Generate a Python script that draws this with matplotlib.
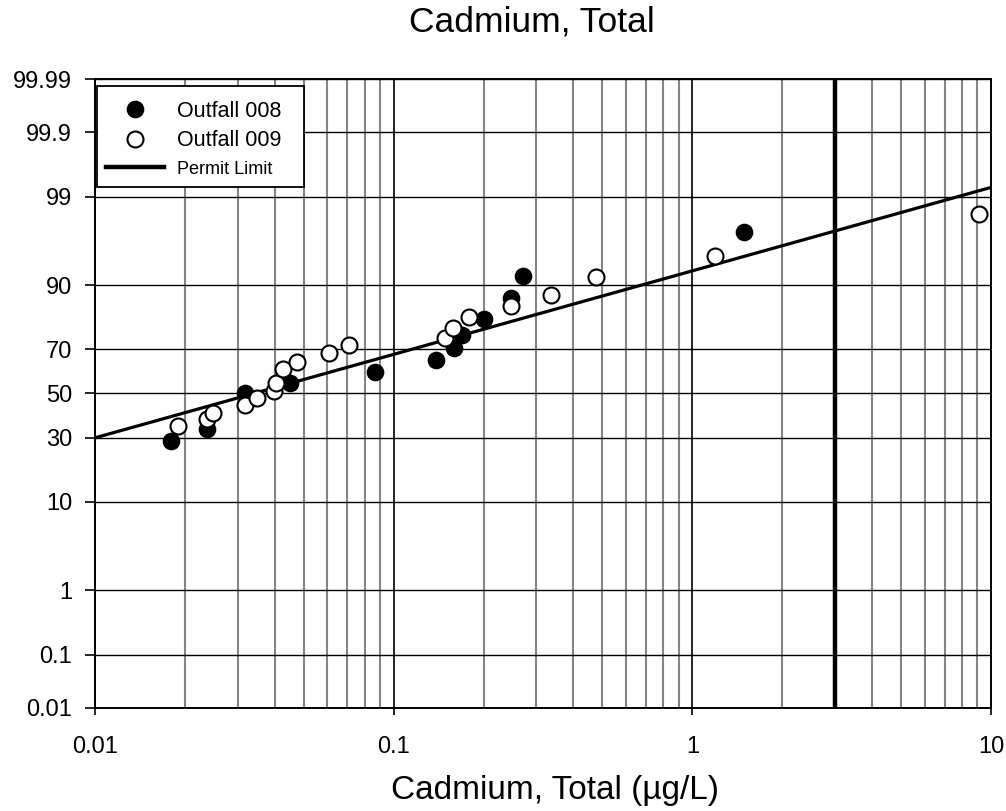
from statistics import NormalDist
import numpy as np
import matplotlib
matplotlib.use("Agg")
import matplotlib.pyplot as plt
from matplotlib.patches import Rectangle
from matplotlib.ticker import FixedLocator, FixedFormatter, LogLocator, NullFormatter

plt.rcParams["font.family"] = ["Liberation Sans", "DejaVu Sans"]

# Outfall 008 results (ug/L) and cumulative probability (%)
conc_008 = [0.0179, 0.0238, 0.0317, 0.0451, 0.0863, 0.139, 0.159, 0.170,
            0.200, 0.248, 0.270, 1.49]
prob_008 = [28.8, 33.7, 50.4, 54.8, 60.2, 65.4, 70.3, 75.5, 81.0, 87.0,
            91.8, 97.2]

# Outfall 009 results (ug/L) and cumulative probability (%)
conc_009 = [0.0189, 0.0238, 0.0248, 0.0318, 0.0349, 0.0396, 0.0404, 0.0427,
            0.0475, 0.0607, 0.0708, 0.148, 0.158, 0.179, 0.248, 0.337,
            0.477, 1.19, 9.09]
prob_009 = [34.9, 38.0, 41.1, 44.8, 47.9, 51.0, 55.0, 61.4, 64.6, 68.2,
            71.5, 74.3, 77.9, 81.6, 84.9, 87.9, 91.5, 94.8, 98.3]

# lognormal fit (log10 mean / std) and permit limit
fit_mu = -1.469
fit_sigma = 1.013
permit_limit = 3.0

prob_ticks = [0.01, 0.1, 1, 10, 30, 50, 70, 90, 99, 99.9, 99.99]
prob_labels = ["0.01", "0.1", "1", "10", "30", "50", "70", "90", "99",
               "99.9", "99.99"]

nd = NormalDist()
_ppf = np.vectorize(lambda p: nd.inv_cdf(min(max(p / 100.0, 1e-12), 1 - 1e-12)),
                    otypes=[float])
_cdf = np.vectorize(lambda z: nd.cdf(z) * 100.0, otypes=[float])


def forward(p):
    return _ppf(np.asarray(p, dtype=float))


def inverse(z):
    return _cdf(np.asarray(z, dtype=float))


W, H = 1006, 811
fig = plt.figure(figsize=(W / 100, H / 100), dpi=100)
ax = fig.add_axes([95 / W, 1 - 708 / H, 896 / W, 629 / H])

ax.set_xscale("log")
ax.set_yscale("function", functions=(forward, inverse))
ax.set_xlim(0.01, 10)
ax.set_ylim(0.01, 99.99)

# grid
ax.xaxis.set_minor_locator(LogLocator(base=10, subs=np.arange(2, 10)))
ax.xaxis.set_minor_formatter(NullFormatter())
ax.grid(True, which="minor", axis="x", color="#858585", lw=1.5)
ax.grid(True, which="major", axis="x", color="black", lw=1.2)
ax.grid(True, which="major", axis="y", color="black", lw=1.0)

ax.yaxis.set_major_locator(FixedLocator(prob_ticks))
ax.yaxis.set_major_formatter(FixedFormatter(prob_labels))
ax.yaxis.set_minor_locator(FixedLocator([]))
ax.set_xticks([0.01, 0.1, 1, 10])
ax.set_xticklabels(["0.01", "0.1", "1", "10"])

ax.tick_params(axis="both", which="major", direction="out", width=1.2,
               labelsize=17)
ax.tick_params(axis="y", which="major", length=7.5, pad=9)
ax.tick_params(axis="x", which="major", length=5, pad=15)
ax.tick_params(axis="x", which="minor", length=0)
for sp in ax.spines.values():
    sp.set_linewidth(1.4)

# fitted line
xfit = np.logspace(-2, 1, 200)
pfit = np.array([nd.cdf((np.log10(v) - fit_mu) / fit_sigma) * 100 for v in xfit])
ax.plot(xfit, pfit, color="black", lw=2.3, zorder=3)

plimit = ax.axvline(permit_limit, color="black", lw=3.2, zorder=3,
                    label="Permit Limit")

h8, = ax.plot(conc_008, prob_008, "o", ms=11.5, mfc="black", mec="black",
              mew=1.2, zorder=4, label="Outfall 008")
h9, = ax.plot(conc_009, prob_009, "o", ms=11.5, mfc="white", mec="black",
              mew=1.5, zorder=5, label="Outfall 009")

# legend box drawn separately so its padding can be uneven
ax.add_patch(Rectangle((2 / 896, 1 - 108 / 629), 207 / 896, 101 / 629,
                       transform=ax.transAxes, facecolor="white",
                       edgecolor="black", lw=1.3, zorder=6, clip_on=False))
leg = ax.legend(handles=[h8, h9, plimit], loc="upper left",
                bbox_to_anchor=(11 / 896, 1 - 22 / 629), borderaxespad=0,
                fontsize=15.5, frameon=False, handlelength=2.7,
                handletextpad=0.6, labelspacing=0.38, borderpad=0)
leg.set_zorder(7)
leg.get_texts()[2].set_fontsize(13)

fig.text(532 / W, 1 - 22 / H, "Cadmium, Total", fontsize=25.5,
         ha="center", va="center")
ax.set_xlabel("Cadmium, Total (\u00b5g/L)", fontsize=24)
ax.xaxis.set_label_coords((555 - 95) / 896, (708 - 790) / 629)
ax.xaxis.label.set_va("center")

fig.savefig("out.png", dpi=100, facecolor="white")
